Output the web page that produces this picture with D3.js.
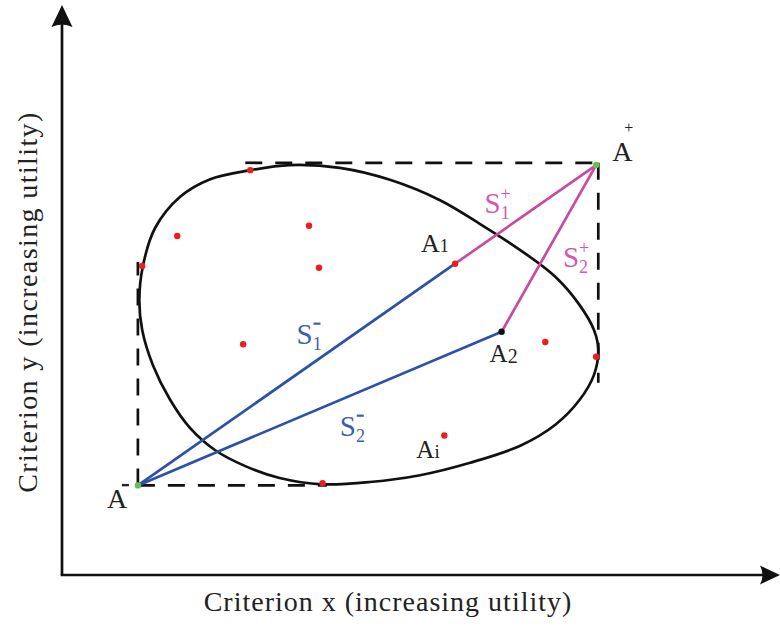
<!DOCTYPE html>
<html>
<head>
<meta charset="utf-8">
<script src="https://cdn.jsdelivr.net/npm/d3@7/dist/d3.min.js"></script>
<style>
  html, body { margin: 0; padding: 0; background: #fff; }
  svg { display: block; }
  text { font-family: "Liberation Serif", "Times New Roman", serif; }
</style>
</head>
<body>
<svg id="chart" width="780" height="626"></svg>
<script>
// ---- data (criterion units, 0..100 on both axes) ----
const axisLabels = ["Criterion x (increasing utility)", "Criterion y (increasing utility)"];
const idealPoint = { name: "A", sup: "+", x: 74.6, y: 72.3 };
const antiIdealPoint = { name: "A", sup: "-", x: 10.6, y: 15.8 };
const alt1 = { name: "A", sub: "1", x: 54.9, y: 54.9 };
const alt2 = { name: "A", sub: "2", x: 61.4, y: 42.9 };
const altI = { name: "A", sub: "i", x: 53.4, y: 24.6 };
const otherAlternatives = [
  [26.3, 71.4], [16.1, 59.8], [34.5, 61.6], [35.9, 54.2], [11.2, 54.5],
  [25.3, 40.7], [67.5, 41.1], [74.6, 38.5], [53.4, 24.6], [36.4, 16.2]
];
const boundaryX = [26.3, 31.8, 38.8, 45.8, 52.8, 58.4, 64.0, 68.9, 72.3, 74.3, 74.9, 74.3,
                   72.3, 68.9, 64.0, 57.0, 50.0, 43.0, 36.3, 30.4, 25.6, 21.4, 17.9, 15.1,
                   12.7, 11.2, 10.8, 11.3, 13.0, 16.5, 20.7];
const boundaryY = [71.4, 72.3, 71.8, 69.7, 66.1, 61.9, 57.3, 52.6, 47.6, 43.2, 39.7, 35.3,
                   30.9, 26.5, 22.8, 19.8, 17.6, 16.4, 16.0, 17.1, 19.2, 22.0, 25.9, 30.9,
                   37.0, 43.2, 48.5, 54.5, 61.2, 66.7, 69.8];
// dashed bounding segments: [x1, y1, x2, y2]
const boxSegments = [
  [25.6, 72.7, 74.9, 72.7],
  [74.9, 72.7, 74.9, 33.9],
  [10.6, 15.8, 37.0, 15.8],
  [10.6, 15.8, 10.6, 55.2]
];
const separations = [
  { label: "S", sub: "1", sup: "-", from: antiIdealPoint, to: alt1, kind: "neg" },
  { label: "S", sub: "2", sup: "-", from: antiIdealPoint, to: alt2, kind: "neg" },
  { label: "S", sub: "1", sup: "+", from: alt1, to: idealPoint, kind: "pos" },
  { label: "S", sub: "2", sup: "+", from: alt2, to: idealPoint, kind: "pos" }
];

// ---- drawing ----
const svg = d3.select("#chart");
const x = d3.scaleLinear().domain([0, 100]).range([62, 778]);
const y = d3.scaleLinear().domain([0, 100]).range([575, 8]);

const colNeg = "#2c52a6", colPos = "#c64ba3";
const txtNeg = "#3d5db5", txtPos = "#d259b0";

// axes
const ax = svg.append("g");
ax.append("line").attr("x1", x(0)).attr("y1", y(0)).attr("x2", x(0)).attr("y2", y(100) + 10)
  .attr("stroke", "#111").attr("stroke-width", 2.7);
ax.append("line").attr("x1", x(0) - 1.3).attr("y1", y(0)).attr("x2", x(100) - 10).attr("y2", y(0))
  .attr("stroke", "#111").attr("stroke-width", 2.7);
// arrowheads
const tipY = y(100) - 3, cx0 = x(0);
ax.append("path")
  .attr("d", `M${cx0},${tipY} L${cx0 + 10.5},${tipY + 22} Q${cx0},${tipY + 17} ${cx0 - 10.5},${tipY + 22} Z`)
  .attr("fill", "#111");
const tipX = x(100) + 2, cy0 = y(0);
ax.append("path")
  .attr("d", `M${tipX},${cy0} L${tipX - 20},${cy0 - 9.5} Q${tipX - 15},${cy0} ${tipX - 20},${cy0 + 9.5} Z`)
  .attr("fill", "#111");

// axis titles
svg.append("text").attr("x", 388).attr("y", 611).attr("text-anchor", "middle")
  .attr("font-size", 28).attr("letter-spacing", 1).attr("fill", "#222").text(axisLabels[0]);
svg.append("text").attr("transform", "translate(37,302) rotate(-90)").attr("text-anchor", "middle")
  .attr("font-size", 28).attr("letter-spacing", 1.4).attr("fill", "#222").text(axisLabels[1]);

// dashed bounding box
svg.append("g").selectAll("line").data(boxSegments).join("line")
  .attr("x1", d => x(d[0])).attr("y1", d => y(d[1]))
  .attr("x2", d => x(d[2])).attr("y2", d => y(d[3]))
  .attr("stroke", "#111").attr("stroke-width", 2.7)
  .attr("stroke-dasharray", "17,13");

// boundary curve of the alternatives set
const boundary = boundaryX.map((v, i) => [v, boundaryY[i]]);
svg.append("path").datum(boundary)
  .attr("d", d3.line().x(d => x(d[0])).y(d => y(d[1])).curve(d3.curveCatmullRomClosed.alpha(0.5)))
  .attr("fill", "none").attr("stroke", "#111").attr("stroke-width", 2.7);

// separation lines
svg.append("g").selectAll("line").data(separations).join("line")
  .attr("x1", d => x(d.from.x)).attr("y1", d => y(d.from.y))
  .attr("x2", d => x(d.to.x)).attr("y2", d => y(d.to.y))
  .attr("stroke", d => d.kind === "neg" ? colNeg : colPos)
  .attr("stroke-width", 2.7);

// alternative points
svg.append("g").selectAll("circle").data(otherAlternatives.concat([[alt1.x, alt1.y]])).join("circle")
  .attr("cx", d => x(d[0])).attr("cy", d => y(d[1])).attr("r", 3.2).attr("fill", "#ee1c1c");
svg.append("circle").attr("cx", x(alt2.x)).attr("cy", y(alt2.y)).attr("r", 3.2).attr("fill", "#111");
svg.append("g").selectAll("circle").data([idealPoint, antiIdealPoint]).join("circle")
  .attr("cx", d => x(d.x)).attr("cy", d => y(d.y)).attr("r", 3.2).attr("fill", "#6cc04a");

// point labels
function pointLabel(p, dx, dy, size, subSize, subDy) {
  const t = svg.append("text").attr("x", x(p.x) + dx).attr("y", y(p.y) + dy)
    .attr("font-size", size).attr("fill", "#222");
  t.append("tspan").text(p.name);
  if (p.sub) t.append("tspan").attr("font-size", subSize).attr("dy", subDy).text(p.sub);
}
pointLabel(idealPoint, 16, -4, 28);
svg.append("text").attr("x", x(idealPoint.x) + 28).attr("y", y(idealPoint.y) - 32)
  .attr("font-size", 16).attr("fill", "#222").text(idealPoint.sup);
pointLabel(antiIdealPoint, -31, 23, 28);
svg.append("rect").attr("x", x(antiIdealPoint.x) - 16).attr("y", y(antiIdealPoint.y) - 1.5)
  .attr("width", 7).attr("height", 2.4).attr("fill", "#222");
pointLabel(alt1, -34, -12, 26, 18, 0);
pointLabel(alt2, -12, 30, 25, 20, 1);
pointLabel(altI, -28, 22, 25, 19, 0);

// separation labels
const sepOffsets = [[0, -31], [20, 27], [-41, -1], [14, 19]];
separations.forEach((s, i) => {
  const mx = (x(s.from.x) + x(s.to.x)) / 2 + sepOffsets[i][0];
  const my = (y(s.from.y) + y(s.to.y)) / 2 + sepOffsets[i][1];
  const c = s.kind === "neg" ? txtNeg : txtPos;
  const t = svg.append("text").attr("x", mx).attr("y", my).attr("font-size", 29).attr("fill", c);
  t.append("tspan").text(s.label);
  t.append("tspan").attr("font-size", 18).attr("dy", 6).text(s.sub);
  if (s.kind === "neg") {
    svg.append("rect").attr("x", mx + 17).attr("y", my - 21).attr("width", 7).attr("height", 2.2).attr("fill", c);
  } else {
    svg.append("text").attr("x", mx + 16).attr("y", my - 13).attr("font-size", 18).attr("fill", c).text(s.sup);
  }
});
</script>
</body>
</html>
